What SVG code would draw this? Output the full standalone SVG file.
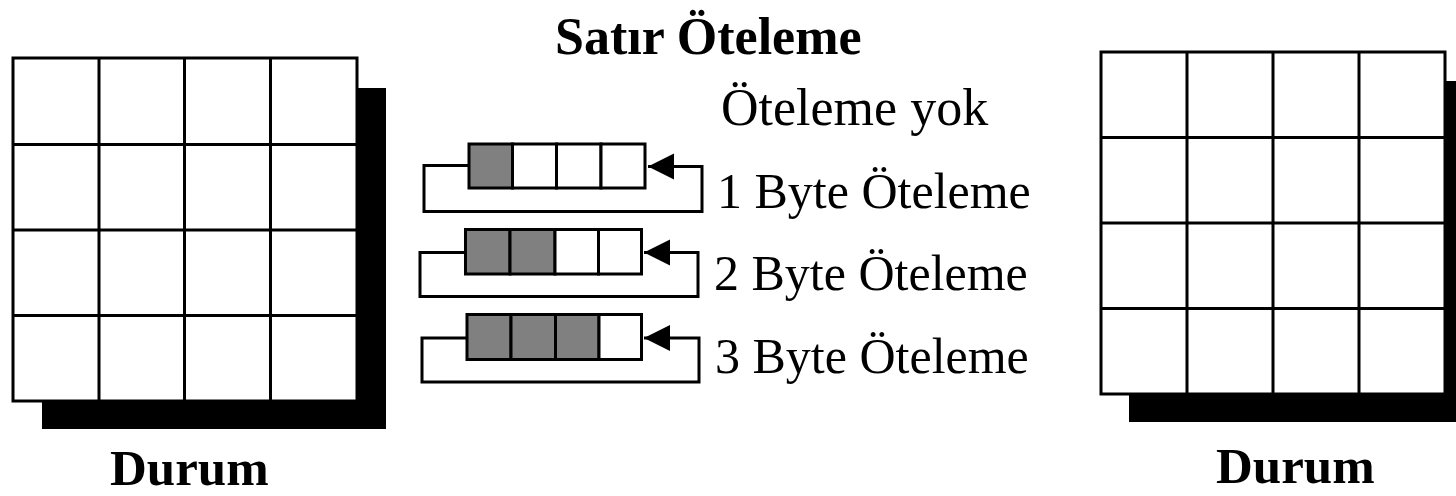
<svg xmlns="http://www.w3.org/2000/svg" width="1456" height="496" viewBox="0 0 1456 496">
  <defs>
    <style>
      .cell { fill: #ffffff; stroke: #000000; stroke-width: 3; }
      .shade { fill: #808080; stroke: #000000; stroke-width: 3; }
      .shadow { fill: #000000; }
      .loop { fill: none; stroke: #000000; stroke-width: 3; }
      .title { font-family: "Liberation Serif", "Times New Roman", serif; font-weight: bold; font-size: 51px; fill: #000000; }
      .label { font-family: "Liberation Serif", "Times New Roman", serif; font-size: 50px; fill: #000000; }
    </style>
    <marker id="arrow" markerUnits="userSpaceOnUse" markerWidth="28" markerHeight="28" viewBox="0 0 28 28" refX="26" refY="14" orient="auto">
      <path d="M0,1 L26,14 L0,27 Z" fill="#000000"/>
    </marker>
  </defs>
  <rect width="1456" height="496" fill="#ffffff"/>

  <!-- left state matrix -->
  <g id="state-in">
    <rect class="shadow" x="42" y="88" width="344" height="341"/>
    <rect class="cell" x="13" y="58" width="344" height="343"/>
    <path class="loop" d="M99,58 V401 M184.5,58 V401 M270.5,58 V401 M13,144.5 H357 M13,230 H357 M13,315.5 H357"/>
    <text class="title" x="110" y="485">Durum</text>
  </g>

  <!-- right state matrix -->
  <g id="state-out">
    <rect class="shadow" x="1129" y="81" width="340" height="341"/>
    <rect class="cell" x="1101" y="52" width="344" height="342"/>
    <path class="loop" d="M1187,52 V394 M1273,52 V394 M1359,52 V394 M1101,137.5 H1445 M1101,223 H1445 M1101,308.5 H1445"/>
    <text class="title" x="1216" y="483">Durum</text>
  </g>

  <!-- heading -->
  <g id="heading">
    <text class="title" x="555" y="54" style="font-size:52px">Satır Öteleme</text>
    <text class="label" x="721" y="125" style="font-size:52px">Öteleme yok</text>
  </g>

  <!-- row shift by 1 byte -->
  <g id="shift-1">
    <rect class="shade" x="469" y="144" width="43.5" height="44"/>
    <rect class="cell" x="512.5" y="144" width="44" height="44"/>
    <rect class="cell" x="556.5" y="144" width="44.5" height="44"/>
    <rect class="cell" x="601" y="144" width="44" height="44"/>
    <text class="label" x="717" y="208">1 Byte Öteleme</text>
  </g>

  <!-- row shift by 2 bytes -->
  <g id="shift-2">
    <rect class="shade" x="465.5" y="229.5" width="44.5" height="44.5"/>
    <rect class="shade" x="510" y="229.5" width="45" height="44.5"/>
    <rect class="cell" x="555" y="229.5" width="43.5" height="44.5"/>
    <rect class="cell" x="598.5" y="229.5" width="43" height="44.5"/>
    <text class="label" x="714" y="290">2 Byte Öteleme</text>
  </g>

  <!-- row shift by 3 bytes -->
  <g id="shift-3">
    <rect class="shade" x="467" y="314.5" width="44" height="45"/>
    <rect class="shade" x="511" y="314.5" width="44.5" height="45"/>
    <rect class="shade" x="555.5" y="314.5" width="43.5" height="45"/>
    <rect class="cell" x="599" y="314.5" width="42.5" height="45"/>
    <text class="label" x="715" y="373">3 Byte Öteleme</text>
  </g>

  <!-- rotation loops -->
  <g id="connectors">
    <path class="loop" d="M469,165.5 H424 V211.5 H702 V166.5 H648" marker-end="url(#arrow)"/>
    <path class="loop" d="M465.5,252.5 H420 V296.5 H698 V252.5 H644" marker-end="url(#arrow)"/>
    <path class="loop" d="M467,338 H422 V382 H699 V338 H644" marker-end="url(#arrow)"/>
  </g>
</svg>
